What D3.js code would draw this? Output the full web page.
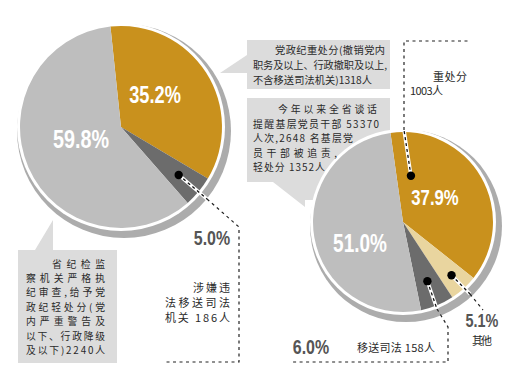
<!DOCTYPE html>
<html><head><meta charset="utf-8">
<script src="https://cdn.jsdelivr.net/npm/d3@7"></script>
<style>
html,body{margin:0;padding:0;background:#fff;}
svg{display:block;}
.cn{font-family:"Noto Sans CJK SC","Noto Sans CJK JP",sans-serif;font-size:11px;fill:#2a2a2a;}
.pct{font-family:"Liberation Sans",Arial,sans-serif;font-weight:bold;}
</style></head>
<body>
<svg id="c" width="530" height="375"></svg>
<script>
// ---- data ----
const leftCategories = ["党政纪重处分", "涉嫌违法移送司法机关", "党政纪轻处分"];
const leftValues = [35.2, 5.0, 59.8];
const leftCounts = [1318, 186, 2240];
const rightCategories = ["重处分", "其他", "移送司法", "轻处分"];
const rightValues = [37.9, 5.1, 6.0, 51.0];
const rightCounts = [1003, null, 158, 1352];
const leftLabels = ["35.2%", "5.0%", "59.8%"];
const rightLabels = ["37.9%", "5.1%", "6.0%", "51.0%"];

const ORANGE = "#C9911D", LGRAY = "#BEBEBE", DGRAY = "#6C6C6C", TAN = "#E9D59F";
const leftColors = [ORANGE, DGRAY, LGRAY];
const rightColors = [ORANGE, TAN, DGRAY, LGRAY];
const BOX = "#DCDCDC", SHADOW = "#ACACAC";

const svg = d3.select("#c");
const deg = Math.PI / 180;

// ---- callout boxes (behind pies) ----
const boxes = svg.append("g");
boxes.append("path").attr("fill", BOX)
  .attr("d", "M18,250 L35,250 L53,220 L53,250 L117,250 L117,363 L18,363 Z");
boxes.append("path").attr("fill", BOX)
  .attr("d", "M247,40 L390,40 L390,89 L247,89 L247,73 L220,73 L247,55 Z");
boxes.append("path").attr("fill", BOX)
  .attr("d", "M247,98 L390,98 L390,200 L305,200 L305,207 L273,182 L247,182 Z");

function drawPie(cx, cy, r, values, colors, startDeg) {
  const g = svg.append("g").attr("transform", `translate(${cx},${cy})`);
  g.append("circle").attr("cx", 3).attr("cy", 4).attr("r", r + 6).attr("fill", SHADOW);
  g.append("circle").attr("r", r + 3).attr("fill", "#fff");
  const pie = d3.pie().sort(null).value(d => d)
    .startAngle(startDeg * deg).endAngle(startDeg * deg + 2 * Math.PI);
  const arcs = pie(values);
  const arc = d3.arc().innerRadius(0).outerRadius(r);
  g.selectAll("path.s").data(arcs).enter().append("path")
    .attr("class", "s").attr("d", arc).attr("fill", (d, i) => colors[i]);
  return {g, arcs};
}

const L = drawPie(121, 127, 101, leftValues, leftColors, -6);
const R = drawPie(403, 222, 90, rightValues, rightColors, -8);

function pointAt(a, rad) {
  return [Math.sin(a) * rad, -Math.cos(a) * rad];
}

// ---- leader lines ----
const lines = svg.append("g");
function leader(pts, innerCount) {
  const line = d3.line();
  const inner = pts.slice(0, innerCount);
  const outer = pts.slice(innerCount - 1);
  lines.append("path").attr("d", line(inner)).attr("stroke", "#fff").attr("stroke-width", 3.5).attr("fill", "none");
  lines.append("path").attr("d", line(inner)).attr("stroke", "#111").attr("stroke-width", 1.3)
    .attr("stroke-dasharray", "3,3").attr("fill", "none");
  lines.append("path").attr("d", line(outer)).attr("stroke", "#222").attr("stroke-width", 1.2)
    .attr("stroke-dasharray", "3,3.5").attr("fill", "none");
}
function dot(x, y) { lines.append("circle").attr("cx", x).attr("cy", y).attr("r", 4.2).attr("fill", "#000"); }

// left dark slice dot
{
  const a = L.arcs[1]; const m = (a.startAngle + a.endAngle) / 2;
  const p = pointAt(m, 75); const x = 121 + p[0], y = 127 + p[1];
  leader([[x, y], [207, 199], [239, 227], [239, 362], [165, 362]], 2);
  dot(x, y);
}
// right orange dot
{
  const a = R.arcs[0]; const m = a.startAngle + 0.13 * (a.endAngle - a.startAngle);
  const p = pointAt(m, 47); const x = 403 + p[0], y = 222 + p[1];
  leader([[x, y], [404, 130], [404, 41], [470, 41]], 2);
  dot(x, y);
}
// right tan dot
{
  const a = R.arcs[1]; const m = (a.startAngle + a.endAngle) / 2;
  const p = pointAt(m, 72); const x = 403 + p[0], y = 222 + p[1];
  leader([[x, y], [470, 294], [483, 310]], 2);
  dot(x, y);
}
// right dark dot
{
  const a = R.arcs[2]; const m = (a.startAngle + a.endAngle) / 2;
  const p = pointAt(m, 64); const x = 403 + p[0], y = 222 + p[1];
  leader([[x, y], [437, 309], [448, 327], [448, 362], [293, 362]], 2);
  dot(x, y);
}

// ---- percentage labels (condensed) ----
const pg = svg.append("g");
function pct(t, x, y, size, fill) {
  pg.append("text").attr("class", "pct")
    .attr("transform", `translate(${x},${y}) scale(0.76,1)`)
    .attr("text-anchor", "middle").attr("font-size", size).attr("fill", fill).text(t);
}
pct(leftLabels[0], 155, 103, 24, "#fff");
pct(leftLabels[2], 81, 148, 26, "#fff");
pct(leftLabels[1], 212, 245, 21, "#555");
pct(rightLabels[0], 435, 205, 22, "#fff");
pct(rightLabels[3], 360, 252, 25, "#fff");
pct(rightLabels[1], 482, 327, 19, "#555");
pct(rightLabels[2], 311, 354, 21, "#555");

// ---- Chinese text ----
const tg = svg.append("g");
function cn(t, x, y, anchor, w, fs) {
  const el = tg.append("text").attr("class", "cn").attr("x", x).attr("y", y)
    .attr("text-anchor", anchor || "start").text(t);
  if (w) el.attr("textLength", w).attr("lengthAdjust", "spacing");
  if (fs) el.style("font-size", fs + "px");
  return el;
}
// box 1
const b1 = 9.8;
cn("省纪检监", 105, 268, "end", 53, b1);
cn("察机关严格执", 26, 282, "start", 79, b1);
cn("纪审查,给予党", 26, 296, "start", 79, b1);
cn("政纪轻处分(党", 26, 311, "start", 79, b1);
cn("内严重警告及", 26, 325, "start", 79, b1);
cn("以下、行政降级", 26, 340, "start", 79, b1);
cn("及以下)" + leftCounts[2] + "人", 26, 354, "start", 79, b1);
// left small label
cn("涉嫌违", 230, 292, "end", 37);
cn("法移送司法", 230, 307, "end", 65);
cn("机关 " + leftCounts[1] + "人", 230, 322, "end", 65);
// box 2
const b2 = 10.2;
cn("党政纪重处分(撤销党内", 275, 54, "start", 110, b2);
cn("职务及以上、行政撤职及以上,", 253, 69, "start", 134, b2);
cn("不含移送司法机关)" + leftCounts[0] + "人", 253, 84, "start", 119, b2);
// box 3
const b3 = 9.9;
cn("今年以来全省谈话", 278, 113, "start", 99, b3);
cn("提醒基层党员干部 53370", 253, 127.5, "start", 126, b3);
cn("人次,2648 名基层党", 253, 142, "start", 100, b3);
cn("员干部被追责,", 253, 156.5, "start", 84, b3);
cn("轻处分 " + rightCounts[3] + "人", 253, 171, "start", 72, b3);
// right labels
cn("重处分", 433, 81, "start", 34);
cn(rightCounts[0] + "人", 410, 95, "start", 33);
cn("其他", 472, 345, "start", 20);
cn("移送司法 " + rightCounts[2] + "人", 357, 352, "start", 78);
</script>
</body></html>
